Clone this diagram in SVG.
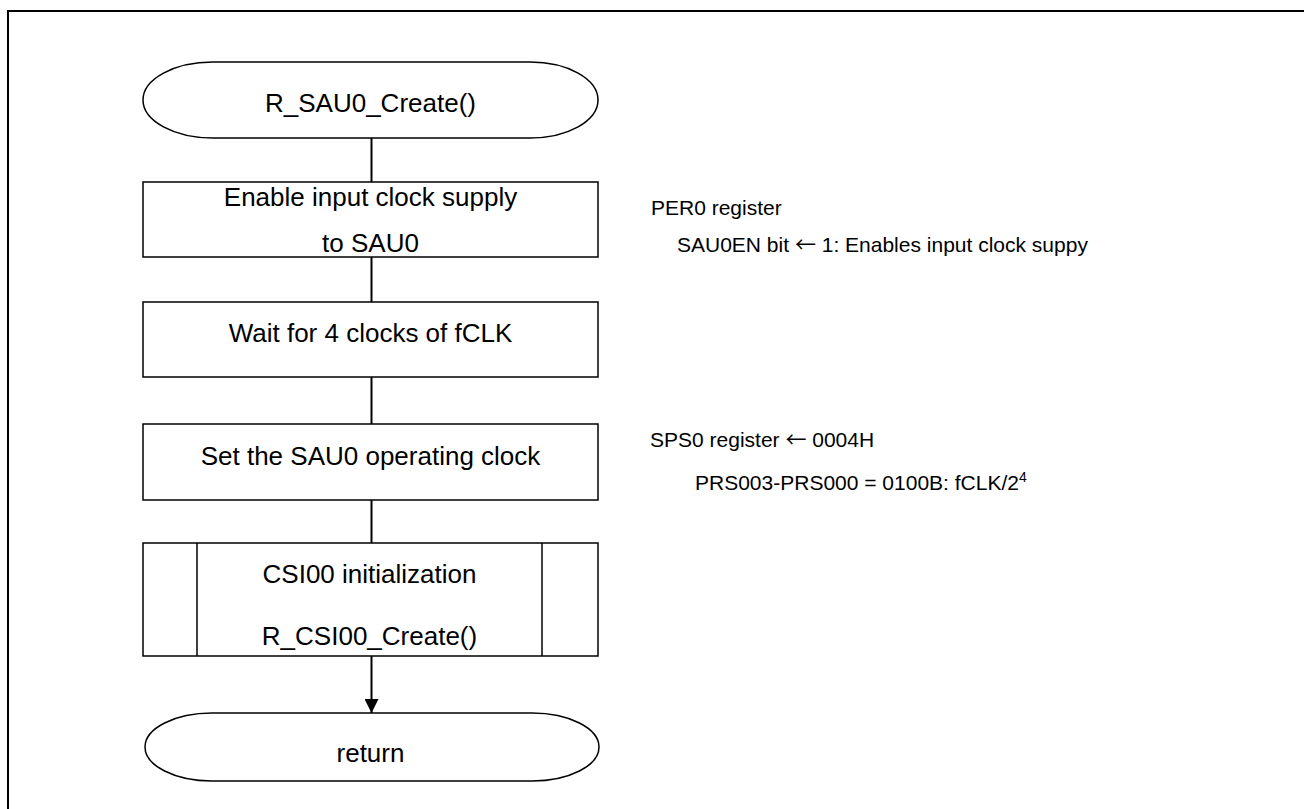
<svg xmlns="http://www.w3.org/2000/svg" width="1304" height="809" viewBox="0 0 1304 809">
<defs>
<style>
.shape{fill:#fff;stroke:#000;stroke-width:1.5}
.conn{fill:none;stroke:#000;stroke-width:2}
.t{font-family:"Liberation Sans",Arial,sans-serif;font-size:26px;fill:#000;text-anchor:middle}
.a{font-family:"Liberation Sans",Arial,sans-serif;font-size:21px;fill:#000}
.arw{font-family:"Noto Sans CJK JP","Liberation Sans",sans-serif}
</style>
<marker id="arr" markerWidth="14" markerHeight="14" refX="14" refY="7" orient="auto" markerUnits="userSpaceOnUse">
<path d="M0,0 L14,7 L0,14 Z" fill="#000"/>
</marker>
</defs>
<rect width="1304" height="809" fill="#fff"/>
<path d="M8,820 V11 H1320" fill="none" stroke="#000" stroke-width="2"/>
<g id="connectors">
<line class="conn" x1="371.5" y1="138" x2="371.5" y2="182"/>
<line class="conn" x1="371.5" y1="257" x2="371.5" y2="302"/>
<line class="conn" x1="371.5" y1="377" x2="371.5" y2="424"/>
<line class="conn" x1="371.5" y1="500" x2="371.5" y2="543"/>
<line class="conn" x1="371.5" y1="656" x2="371.5" y2="713" marker-end="url(#arr)"/>
</g>
<g id="start">
<path class="shape" d="M213,62 H530 A68,38 0 0 1 530,138 H213 A70,38 0 0 1 213,62 Z"/>
<text class="t" x="370.5" y="112">R_SAU0_Create()</text>
</g>
<g id="enable_clock">
<rect class="shape" x="143" y="182" width="455" height="75"/>
<text class="t" x="370.5" y="206">Enable input clock supply</text>
<text class="t" x="370.5" y="252">to SAU0</text>
</g>
<g id="wait">
<rect class="shape" x="143" y="302" width="455" height="75"/>
<text class="t" x="370.5" y="342">Wait for 4 clocks of fCLK</text>
</g>
<g id="set_clock">
<rect class="shape" x="143" y="424" width="455" height="76"/>
<text class="t" x="370.5" y="465">Set the SAU0 operating clock</text>
</g>
<g id="csi00_init">
<rect class="shape" x="143" y="543" width="455" height="113"/>
<line class="shape" x1="197" y1="543" x2="197" y2="656"/>
<line class="shape" x1="542" y1="543" x2="542" y2="656"/>
<text class="t" x="369.5" y="583">CSI00 initialization</text>
<text class="t" x="369.5" y="645">R_CSI00_Create()</text>
</g>
<g id="return">
<path class="shape" d="M212,713 H532 A67,34 0 0 1 532,781 H212 A67,34 0 0 1 212,713 Z"/>
<text class="t" x="370.5" y="762">return</text>
</g>
<g id="notes">
<text class="a" x="651" y="215">PER0 register</text>
<text class="a" x="677" y="252">SAU0EN bit <tspan class="arw">←</tspan> 1: Enables input clock suppy</text>
<text class="a" x="650" y="447">SPS0 register <tspan class="arw">←</tspan> 0004H</text>
<text class="a" x="695" y="490">PRS003-PRS000 = 0100B: fCLK/2<tspan dy="-8" font-size="14">4</tspan></text>
</g>
</svg>
